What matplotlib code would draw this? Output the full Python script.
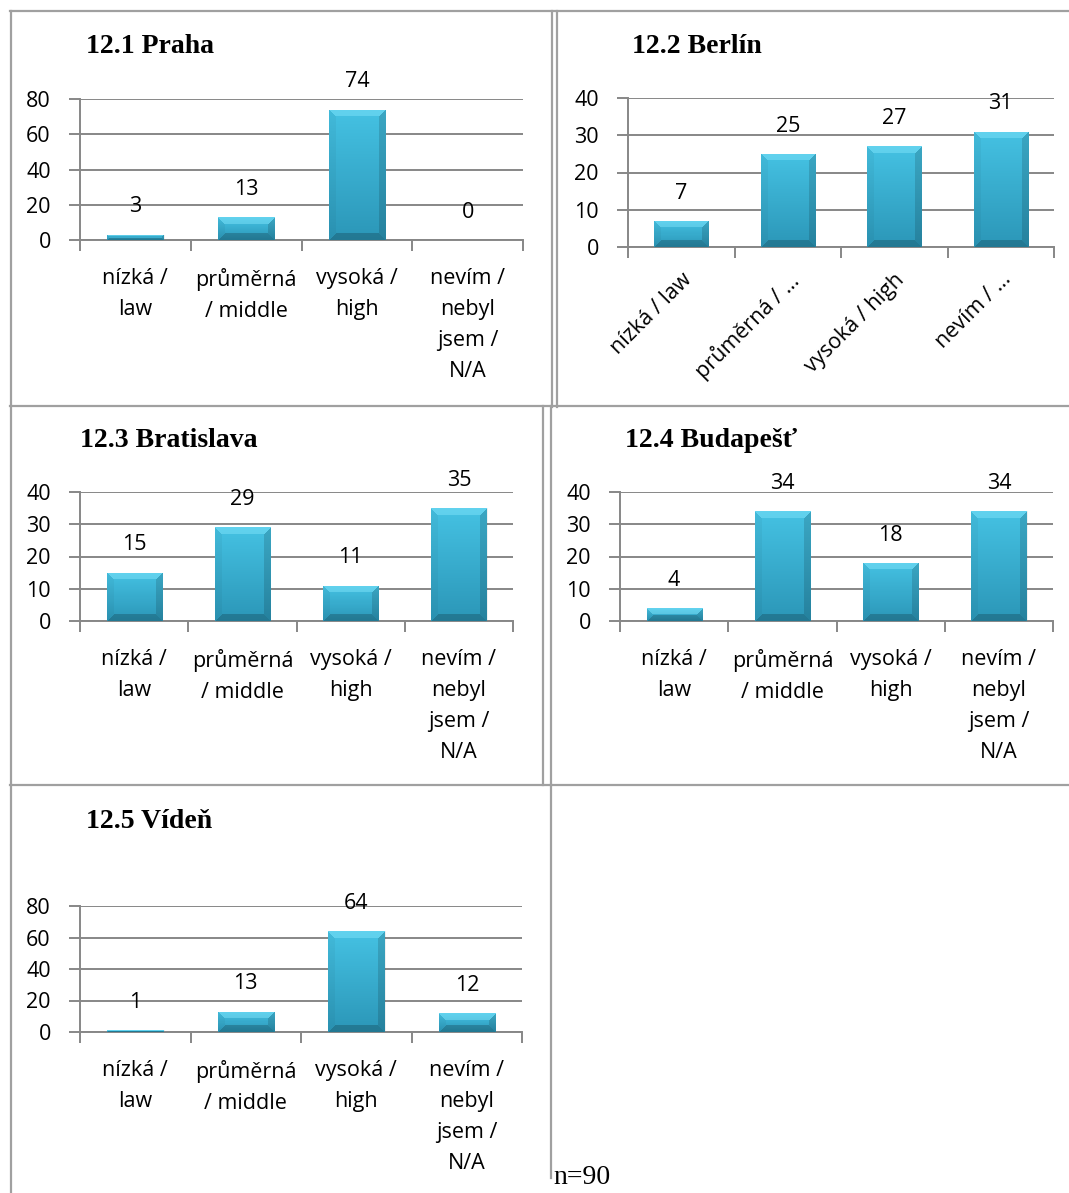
import numpy as np
import matplotlib
matplotlib.use("Agg")
import matplotlib.pyplot as plt
from matplotlib.lines import Line2D

# ---- data -------------------------------------------------------------
categories = ["nízká /\nlaw", "průměrná\n/ middle", "vysoká /\nhigh",
              "nevím /\nnebyl\njsem /\nN/A"]
categories_short = ["nízká / law", "průměrná / …", "vysoká / high", "nevím / …"]

praha = [3, 13, 74, 0]
berlin = [7, 25, 27, 31]
bratislava = [15, 29, 11, 35]
budapest = [4, 34, 18, 34]
viden = [1, 13, 64, 12]

titles = ["12.1 Praha", "12.2 Berlín", "12.3 Bratislava", "12.4 Budapešť", "12.5 Vídeň"]
footnote = "n=90"

# ---- figure -----------------------------------------------------------
W, H = 1069, 1193
fig = plt.figure(figsize=(W / 100, H / 100), dpi=100)

LABEL_FONT = "Open Sans"
LABEL_SIZE = 15.5
TITLE_FONT = "Liberation Serif"
GRID = "#878787"
BORDER = "#a0a0a0"


def fx(x):
    return x / W


def fy(y):
    return 1 - y / H


TOP_C = np.array([0.27, 0.76, 0.89])
BOT_C = np.array([0.17, 0.59, 0.72])


def bevel_image(wpx, hpx, bev=7.0):
    wpx = max(int(round(wpx)), 1)
    hpx = max(int(round(hpx)), 1)
    yy, xx = np.mgrid[0:hpx, 0:wpx]
    t = yy / max(hpx - 1, 1)
    img = TOP_C[None, None, :] * (1 - t)[..., None] + BOT_C[None, None, :] * t[..., None]
    b = min(bev, hpx / 2, wpx / 2)
    d = np.stack([yy + 0.5, xx + 0.5, wpx - xx - 0.5, hpx - yy - 0.5])
    which = d.argmin(0)
    edge = d.min(0) < b
    out = img.copy()
    top = edge & (which == 0)
    left = edge & (which == 1)
    right = edge & (which == 2)
    bottom = edge & (which == 3)
    out[top] = img[top] * 0.6 + np.array([0.55, 0.92, 1.0]) * 0.4
    out[left] = img[left] * 0.96
    out[right] = img[right] * 0.86
    out[bottom] = img[bottom] * 0.8
    return np.clip(out, 0, 1)


def draw_panel(values, title, ymax, ystep, box, title_xy, labels, rotated=False):
    left, right, top, bottom = box
    ax = fig.add_axes([fx(left), fy(bottom), fx(right - left), (bottom - top) / H])
    x = np.arange(len(values))
    ax.set_xlim(-0.5, len(values) - 0.5)
    ax.set_ylim(0, ymax)

    ax.set_yticks(np.arange(0, ymax + 0.1, ystep))
    ax.yaxis.grid(True, color=GRID, lw=1.4, zorder=0)
    ax.set_axisbelow(True)
    ax.tick_params(axis="y", length=8, width=1.4, color=GRID, pad=13,
                   labelsize=LABEL_SIZE)

    ax.set_xticks(x)
    ax.set_xticks(np.arange(-0.5, len(values), 1.0), minor=True)
    ax.tick_params(axis="x", which="minor", length=8, width=1.4, color=GRID)
    ax.tick_params(axis="x", which="major", length=0, labelsize=LABEL_SIZE)
    if rotated:
        ax.set_xticklabels(labels, rotation=45, ha="right", rotation_mode="anchor",
                           fontfamily=LABEL_FONT)
        ax.tick_params(axis="x", which="major", pad=16)
    else:
        ax.set_xticklabels(labels, fontfamily=LABEL_FONT, linespacing=1.63,
                           va="top")
        ax.tick_params(axis="x", which="major", pad=20)
    for lab in ax.get_yticklabels():
        lab.set_fontfamily(LABEL_FONT)

    for side in ("top", "right"):
        ax.spines[side].set_visible(False)
    for side in ("left", "bottom"):
        ax.spines[side].set_color(GRID)
        ax.spines[side].set_linewidth(1.4)

    bars = ax.bar(x, values, width=0.51, color="none", zorder=2)
    sx = (right - left) / len(values)
    sy = (bottom - top) / ymax
    for patch in bars:
        x0, w, h = patch.get_x(), patch.get_width(), patch.get_height()
        if h <= 0:
            continue
        img = bevel_image(w * sx, h * sy)
        im = ax.imshow(img, extent=[x0, x0 + w, 0, h], origin="upper",
                       aspect="auto", interpolation="nearest", zorder=3)
        im.set_clip_path(patch)
        # soft shadow under the bar
        ax.add_patch(plt.Rectangle((x0 + 0.01, 0.0), w, h, transform=ax.transData,
                                   facecolor="#000000", alpha=0.06, zorder=2.5,
                                   clip_on=False, lw=0))
    ax.set_xlim(-0.5, len(values) - 0.5)
    ax.set_ylim(0, ymax)

    for xi, v in zip(x, values):
        ax.annotate(str(v), (xi, v), xytext=(0, 20), textcoords="offset points",
                    ha="center", va="center", fontsize=LABEL_SIZE,
                    fontfamily=LABEL_FONT, zorder=5)

    fig.text(fx(title_xy[0]), fy(title_xy[1]), title, fontfamily=TITLE_FONT,
             fontweight="bold", fontsize=20, ha="left", va="baseline")
    return ax


draw_panel(praha, titles[0], 80, 20, (80, 523, 99, 240), (86, 53), categories)
draw_panel(berlin, titles[1], 40, 10, (628, 1054, 98, 247), (632, 53),
           categories_short, rotated=True)
draw_panel(bratislava, titles[2], 40, 10, (80, 513, 492, 621), (80, 447), categories)
draw_panel(budapest, titles[3], 40, 10, (620, 1053, 492, 621), (625, 447), categories)
draw_panel(viden, titles[4], 80, 20, (80, 522, 906, 1032), (86, 828), categories)

# ---- table borders ----------------------------------------------------
segments = [
    ((10, 11), (1068, 11)),      # top edge
    ((11, 11), (11, 1193)),      # left edge
    ((552, 11), (552, 407)),     # row 1 divider (left cell)
    ((557, 11), (557, 407)),     # row 1 divider (right cell)
    ((10, 406), (1068, 406)),    # between rows 1 and 2
    ((543, 406), (543, 785)),    # row 2 divider (left cell)
    ((551, 406), (551, 785)),    # row 2 divider (right cell)
    ((10, 785), (1068, 785)),    # between rows 2 and 3
    ((551, 785), (551, 1178)),   # row 3 divider
]
for (x0, y0), (x1, y1) in segments:
    fig.add_artist(Line2D([fx(x0), fx(x1)], [fy(y0), fy(y1)], color=BORDER,
                          lw=1.6, transform=fig.transFigure))

fig.text(fx(553), fy(1184), footnote, fontfamily=TITLE_FONT, fontsize=20,
         ha="left", va="baseline")

fig.savefig("out.png", dpi=100, facecolor="white")
